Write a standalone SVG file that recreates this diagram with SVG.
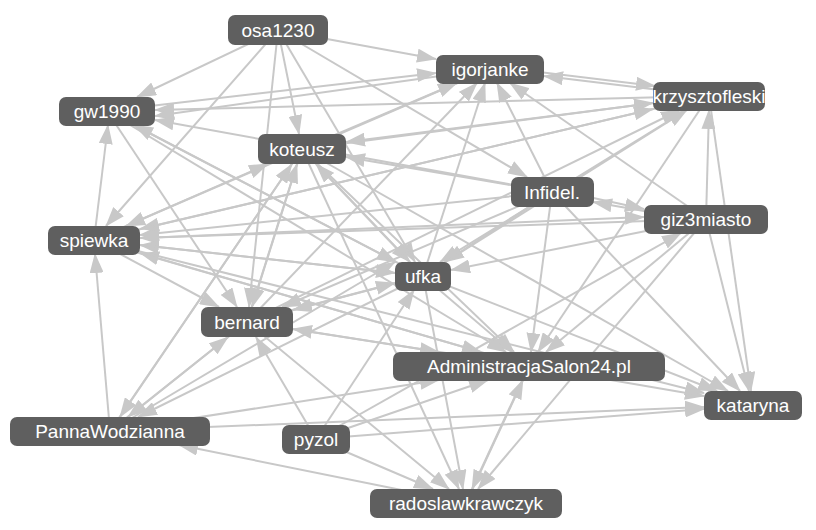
<svg xmlns="http://www.w3.org/2000/svg" width="816" height="530" viewBox="0 0 816 530">
<style>
.e line{stroke:#c8c8c8;stroke-width:2;marker-end:url(#a)}
.n rect{fill:#5f5f5f}
.n text{fill:#fff;font-family:"Liberation Sans",Arial,sans-serif;font-size:19px;text-anchor:middle}
</style>
<defs><marker id="a" markerUnits="userSpaceOnUse" markerWidth="20" markerHeight="14" refX="19" refY="7" orient="auto"><path d="M0,0L20,7L0,14z" fill="#c8c8c8"/></marker></defs>
<rect width="816" height="530" fill="#fff"/>
<g class="e">
<line x1="278" y1="30" x2="436" y2="59"/>
<line x1="278" y1="30" x2="299" y2="134"/>
<line x1="278" y1="30" x2="137" y2="97"/>
<line x1="278" y1="30" x2="527" y2="177"/>
<line x1="278" y1="30" x2="249" y2="307"/>
<line x1="278" y1="30" x2="106" y2="226"/>
<line x1="278" y1="30" x2="415" y2="262"/>
<line x1="709" y1="96" x2="544" y2="76"/>
<line x1="490" y1="66" x2="655" y2="86"/>
<line x1="709" y1="96" x2="155" y2="110"/>
<line x1="302" y1="149" x2="653" y2="103"/>
<line x1="709" y1="96" x2="346" y2="142"/>
<line x1="552" y1="192" x2="346" y2="157"/>
<line x1="552" y1="192" x2="497" y2="83"/>
<line x1="423" y1="276" x2="485" y2="83"/>
<line x1="302" y1="149" x2="457" y2="83"/>
<line x1="247" y1="322" x2="477" y2="83"/>
<line x1="706" y1="219" x2="510" y2="83"/>
<line x1="706" y1="222" x2="593" y2="202"/>
<line x1="552" y1="189" x2="644" y2="209"/>
<line x1="706" y1="219" x2="140" y2="238"/>
<line x1="552" y1="192" x2="140" y2="235"/>
<line x1="423" y1="276" x2="140" y2="245"/>
<line x1="529" y1="366" x2="140" y2="253"/>
<line x1="709" y1="96" x2="140" y2="229"/>
<line x1="490" y1="69" x2="126" y2="226"/>
<line x1="94" y1="240" x2="395" y2="273"/>
<line x1="247" y1="322" x2="395" y2="283"/>
<line x1="302" y1="149" x2="410" y2="262"/>
<line x1="552" y1="192" x2="445" y2="262"/>
<line x1="706" y1="219" x2="451" y2="270"/>
<line x1="110" y1="431" x2="395" y2="262"/>
<line x1="316" y1="439" x2="414" y2="290"/>
<line x1="709" y1="96" x2="440" y2="262"/>
<line x1="107" y1="111" x2="396" y2="262"/>
<line x1="94" y1="240" x2="481" y2="352"/>
<line x1="247" y1="322" x2="439" y2="352"/>
<line x1="423" y1="276" x2="512" y2="352"/>
<line x1="302" y1="149" x2="514" y2="352"/>
<line x1="552" y1="192" x2="531" y2="352"/>
<line x1="706" y1="219" x2="546" y2="352"/>
<line x1="110" y1="431" x2="439" y2="380"/>
<line x1="316" y1="439" x2="488" y2="380"/>
<line x1="709" y1="96" x2="538" y2="352"/>
<line x1="107" y1="111" x2="506" y2="352"/>
<line x1="466" y1="503" x2="523" y2="380"/>
<line x1="423" y1="276" x2="717" y2="391"/>
<line x1="529" y1="366" x2="704" y2="396"/>
<line x1="110" y1="431" x2="704" y2="407"/>
<line x1="316" y1="439" x2="704" y2="409"/>
<line x1="706" y1="219" x2="749" y2="391"/>
<line x1="709" y1="96" x2="751" y2="391"/>
<line x1="552" y1="192" x2="740" y2="391"/>
<line x1="94" y1="240" x2="704" y2="393"/>
<line x1="302" y1="149" x2="728" y2="391"/>
<line x1="107" y1="111" x2="237" y2="307"/>
<line x1="94" y1="240" x2="219" y2="307"/>
<line x1="302" y1="149" x2="252" y2="307"/>
<line x1="423" y1="276" x2="293" y2="310"/>
<line x1="529" y1="366" x2="293" y2="329"/>
<line x1="110" y1="431" x2="228" y2="337"/>
<line x1="316" y1="439" x2="256" y2="337"/>
<line x1="552" y1="192" x2="282" y2="307"/>
<line x1="247" y1="322" x2="449" y2="489"/>
<line x1="529" y1="366" x2="472" y2="489"/>
<line x1="706" y1="219" x2="478" y2="489"/>
<line x1="423" y1="276" x2="463" y2="489"/>
<line x1="302" y1="149" x2="459" y2="489"/>
<line x1="316" y1="439" x2="433" y2="489"/>
<line x1="466" y1="503" x2="179" y2="445"/>
<line x1="423" y1="276" x2="138" y2="417"/>
<line x1="247" y1="322" x2="128" y2="417"/>
<line x1="302" y1="149" x2="120" y2="417"/>
<line x1="110" y1="431" x2="95" y2="254"/>
<line x1="247" y1="322" x2="297" y2="164"/>
<line x1="110" y1="431" x2="292" y2="164"/>
<line x1="423" y1="276" x2="316" y2="164"/>
<line x1="94" y1="240" x2="268" y2="164"/>
<line x1="423" y1="276" x2="134" y2="125"/>
<line x1="94" y1="240" x2="108" y2="125"/>
<line x1="490" y1="69" x2="155" y2="116"/>
<line x1="552" y1="192" x2="155" y2="120"/>
<line x1="94" y1="240" x2="653" y2="109"/>
<line x1="423" y1="276" x2="687" y2="110"/>
<line x1="247" y1="322" x2="680" y2="110"/>
<line x1="706" y1="219" x2="709" y2="110"/>
<line x1="107" y1="111" x2="436" y2="73"/>
<line x1="94" y1="240" x2="644" y2="217"/>
<line x1="316" y1="439" x2="681" y2="233"/>
</g>
<g class="n" id="osa1230"><rect x="228" y="15" width="100" height="30" rx="7"/><text x="278" y="37">osa1230</text></g>
<g class="n" id="igorjanke"><rect x="436" y="55" width="108" height="29" rx="7"/><text x="490" y="76">igorjanke</text></g>
<g class="n" id="krzysztofleski"><rect x="653" y="82" width="112" height="29" rx="7"/><text x="709" y="103">krzysztofleski</text></g>
<g class="n" id="gw1990"><rect x="59" y="97" width="96" height="29" rx="7"/><text x="107" y="118">gw1990</text></g>
<g class="n" id="koteusz"><rect x="258" y="134" width="88" height="30" rx="7"/><text x="302" y="156">koteusz</text></g>
<g class="n" id="Infidel"><rect x="511" y="177" width="83" height="30" rx="7"/><text x="552" y="199">Infidel.</text></g>
<g class="n" id="giz3miasto"><rect x="644" y="205" width="124" height="29" rx="7"/><text x="706" y="226">giz3miasto</text></g>
<g class="n" id="spiewka"><rect x="48" y="226" width="92" height="29" rx="7"/><text x="94" y="247">spiewka</text></g>
<g class="n" id="ufka"><rect x="395" y="262" width="56" height="29" rx="7"/><text x="423" y="283">ufka</text></g>
<g class="n" id="bernard"><rect x="201" y="307" width="92" height="30" rx="7"/><text x="247" y="329">bernard</text></g>
<g class="n" id="AdministracjaSalon24"><rect x="393" y="352" width="272" height="29" rx="7"/><text x="529" y="373">AdministracjaSalon24.pl</text></g>
<g class="n" id="kataryna"><rect x="704" y="391" width="98" height="29" rx="7"/><text x="753" y="412">kataryna</text></g>
<g class="n" id="PannaWodzianna"><rect x="10" y="417" width="200" height="29" rx="7"/><text x="110" y="438">PannaWodzianna</text></g>
<g class="n" id="pyzol"><rect x="282" y="425" width="68" height="29" rx="7"/><text x="316" y="446">pyzol</text></g>
<g class="n" id="radoslawkrawczyk"><rect x="370" y="489" width="192" height="29" rx="7"/><text x="466" y="510">radoslawkrawczyk</text></g>
</svg>
